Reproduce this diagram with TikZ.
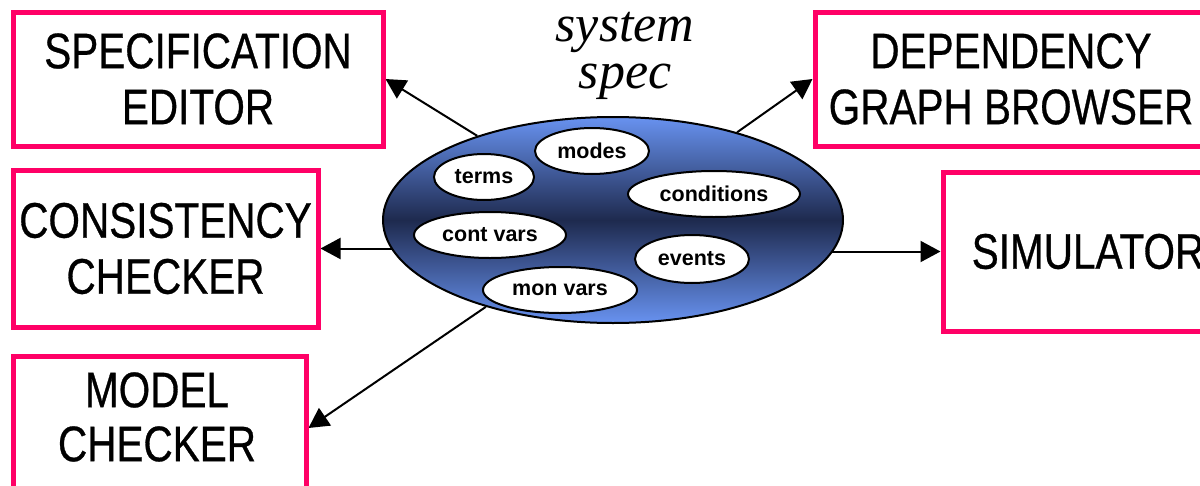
\documentclass[tikz,border=0pt]{standalone}
\usepackage{fontspec}
\setmainfont{Liberation Sans}
\newfontfamily\boxfont[FakeStretch=0.81,FakeBold=0.6]{Liberation Sans}
\newfontfamily\serifit{Liberation Serif}
\usetikzlibrary{shapes.geometric,arrows.meta,backgrounds}
\definecolor{boxpink}{RGB}{255,0,102}
\definecolor{lightblue}{RGB}{104,146,240}
\definecolor{navyblue}{RGB}{30,42,78}
\tikzset{
  toolbox/.style={draw=boxpink, line width=5pt, fill=white, inner sep=0pt, align=center,
    font=\boxfont\fontsize{50}{56}\selectfont},
  boxtext/.style={inner sep=0pt, align=center, font=\boxfont\fontsize{50}{54}\selectfont},
  item/.style={ellipse, draw=black, line width=2pt, fill=white, inner sep=0pt,
    minimum height=46pt, font=\bfseries\fontsize{21.5}{24}\selectfont},
  conn/.style={line width=2pt, -{Triangle[length=20pt,width=21pt]}},
}
\begin{document}
\begin{tikzpicture}[x=1pt,y=-1pt]
\useasboundingbox (0,0) rectangle (1200,485);
\clip (0,0) rectangle (1200,485);

% tool boxes
\node[toolbox, minimum width=370pt, minimum height=134pt] (spec) at (198,79)
  {SPECIFICATION\\EDITOR};
\node[toolbox, minimum width=305pt, minimum height=157pt] (cons) at (165.5,248.5)
  {CONSISTENCY\\CHECKER};
\node[toolbox, minimum width=293pt, minimum height=144pt] (mc) at (159.5,428) {};
\node[boxtext] (mctext) at (157,417) {MODEL\\CHECKER};
\node[toolbox, minimum width=392pt, minimum height=134pt] (dep) at (1011,79)
  {DEPENDENCY\\GRAPH BROWSER};
\node[toolbox, minimum width=290pt, minimum height=159pt] (sim) at (1088,251.5)
  {SIMULATOR};

% system spec
\node[inner sep=0pt, align=center, font=\serifit\itshape\fontsize{52}{47}\selectfont]
  (title) at (625,56) {system\\spec};

% central ellipse
\node[ellipse, draw=black, line width=2pt, minimum width=460pt, minimum height=206pt,
  inner sep=0pt, top color=lightblue, bottom color=lightblue, middle color=navyblue]
  (ell) at (613,220) {};

\node[item, minimum width=114pt] (modes) at (592,151) {modes};
\node[item, minimum width=100pt] (terms) at (484,177) {terms};
\node[item, minimum width=172pt] (conditions) at (714,194) {conditions};
\node[item, minimum width=152pt] (contvars) at (490,235) {cont vars};
\node[item, minimum width=114pt, minimum height=48pt] (events) at (692,259) {events};
\node[item, minimum width=154pt] (monvars) at (560,290) {mon vars};

% connectors
\begin{pgfonlayer}{background}
\draw[conn] (ell) -- (spec.east);
\draw[conn] (ell) -- (dep.west);
\draw[conn] (ell.center |- cons.east) -- (cons.east);
\draw[conn] (ell.center |- sim.west) -- (sim.west);
\draw[conn] (ell) -- (mc.east);
\end{pgfonlayer}
\end{tikzpicture}
\end{document}
